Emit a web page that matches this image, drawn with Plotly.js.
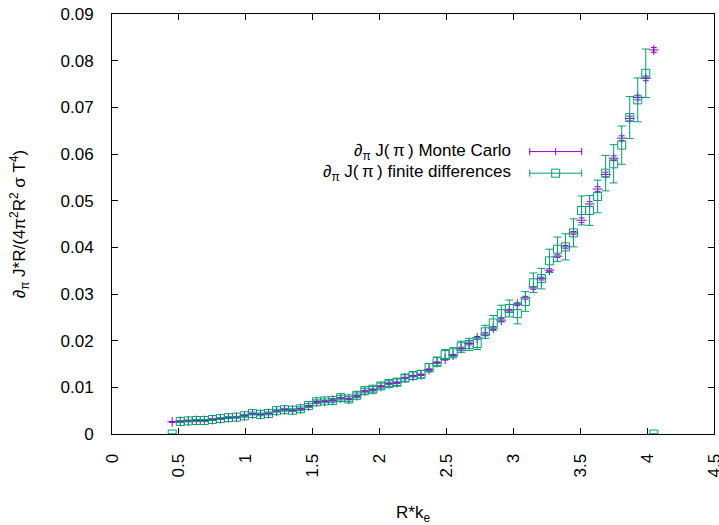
<!DOCTYPE html>
<html>
<head>
<meta charset="utf-8">
<script src="https://cdn.plot.ly/plotly-3.0.1.min.js"></script>
<style>html,body{margin:0;padding:0;background:#fff;}#chart{width:719px;height:525px;}</style>
</head>
<body>
<div id="chart"></div>
<script>
// R*k_e positions
const xVals = [0.45,0.51,0.57,0.63,0.69,0.75,0.81,0.87,0.93,0.99,
  1.05,1.11,1.17,1.23,1.29,1.35,1.41,1.47,1.53,1.59,
  1.65,1.71,1.77,1.83,1.89,1.95,2.01,2.07,2.13,2.19,
  2.25,2.31,2.37,2.43,2.49,2.55,2.61,2.67,2.73,2.79,
  2.85,2.91,2.97,3.03,3.09,3.15,3.21,3.27,3.33,3.39,
  3.45,3.51,3.57,3.63,3.69,3.75,3.81,3.87,3.93,3.99,4.05];

// Monte Carlo values and errors
const mcVals = [0.0026,0.0027,0.0028,0.0029,0.0029,0.0031,0.0033,0.0035,0.0036,0.0039,
  0.0043,0.0042,0.0044,0.0049,0.0052,0.0051,0.0054,0.0060,0.0069,0.0070,
  0.0072,0.0077,0.0075,0.0082,0.0092,0.0095,0.0102,0.0108,0.0110,0.0120,
  0.0124,0.0127,0.0138,0.0153,0.0160,0.0169,0.0183,0.0194,0.0206,0.0214,
  0.0227,0.0244,0.0264,0.0278,0.0292,0.0313,0.0333,0.0351,0.0381,0.0401,
  0.0431,0.0458,0.0493,0.0525,0.0556,0.0591,0.0634,0.0676,0.0721,0.0762,0.0823];
const mcErr = [0.0001,0.0001,0.0001,0.0001,0.0001,0.0001,0.0001,0.0001,0.0001,0.0001,
  0.0001,0.0001,0.0001,0.0001,0.0001,0.0001,0.0001,0.0001,0.00015,0.00015,
  0.00015,0.00015,0.00015,0.00015,0.00015,0.00015,0.00015,0.00015,0.00015,0.00015,
  0.00015,0.00015,0.00015,0.00015,0.00015,0.00015,0.0003,0.0003,0.0003,0.0003,
  0.0003,0.0003,0.0003,0.0003,0.0003,0.0003,0.0003,0.0003,0.0003,0.0003,
  0.0003,0.0005,0.0005,0.0005,0.0005,0.0005,0.0005,0.0005,0.0005,0.0005,0.0005];

// Finite differences values and errors
const fdVals = [0,0.0027,0.0028,0.0029,0.0029,0.0031,0.0033,0.0035,0.0036,0.0039,
  0.0044,0.0042,0.0044,0.0050,0.0052,0.0051,0.0054,0.0061,0.0069,0.0071,
  0.0072,0.0078,0.0075,0.0083,0.0093,0.0096,0.0103,0.0108,0.0111,0.0120,
  0.0125,0.0128,0.0142,0.0155,0.0170,0.0174,0.0187,0.0192,0.0194,0.0219,
  0.0238,0.0258,0.0269,0.0258,0.0284,0.0324,0.0333,0.0371,0.0396,0.0401,
  0.0431,0.0479,0.0479,0.0509,0.0559,0.0579,0.0619,0.0678,0.0716,0.0773,0];
const fdErr = [0,0.0002,0.0002,0.0002,0.0002,0.0002,0.0002,0.0002,0.0002,0.0003,
  0.0003,0.0003,0.0003,0.0003,0.0003,0.0003,0.0004,0.0004,0.0004,0.0004,
  0.0004,0.0005,0.0005,0.0005,0.0005,0.0006,0.0006,0.0006,0.0007,0.0007,
  0.0008,0.0008,0.0009,0.0010,0.0011,0.0011,0.0012,0.0013,0.0013,0.0014,
  0.0016,0.0018,0.0018,0.0022,0.0021,0.0021,0.0022,0.0025,0.0026,0.0028,
  0.0030,0.0031,0.0032,0.0035,0.0038,0.0041,0.0041,0.0045,0.0047,0.0052,0];

const seriesNames = ['∂<sub>π</sub> J(\u2009π\u2009) Monte Carlo', '∂<sub>π</sub> J(\u2009π\u2009) finite differences'];
const purple = '#9400d3';
const green = '#009e73';
const FONT = 'Liberation Sans, Arial, sans-serif';
const FS = 17;

const traces = [
  {
    x: xVals, y: mcVals, type: 'scatter', mode: 'markers', name: seriesNames[0],
    marker: {symbol: 'cross-thin-open', size: 7, color: purple, line: {color: purple, width: 1}},
    error_y: {type: 'data', array: mcErr, visible: true, color: purple, thickness: 1, width: 3},
    showlegend: false
  },
  {
    x: xVals, y: fdVals, type: 'scatter', mode: 'markers', name: seriesNames[1],
    marker: {symbol: 'square-open', size: 8, color: green, line: {color: green, width: 1}},
    error_y: {type: 'data', array: fdErr, visible: true, color: green, thickness: 1, width: 4},
    showlegend: false
  }
];

// legend rows (paper coords)
const legX = 0.6656, sx0 = 0.6939, sx1 = 0.7802, sxc = 0.737;
const legY = [0.6724, 0.621];
const cols = [purple, green];
const shapes = [];
const annotations = [];
for (let k = 0; k < 2; k++) {
  annotations.push({xref: 'paper', yref: 'paper', x: legX, y: legY[k], xanchor: 'right', yanchor: 'middle',
    text: seriesNames[k], showarrow: false, font: {family: FONT, size: FS, color: '#000'}});
  shapes.push({type: 'line', xref: 'paper', yref: 'paper', x0: sx0, x1: sx1, y0: legY[k], y1: legY[k], line: {color: cols[k], width: 1}});
  [sx0, sx1].forEach(function (xx) {
    shapes.push({type: 'line', xref: 'paper', yref: 'paper', ysizemode: 'pixel', yanchor: legY[k],
      x0: xx, x1: xx, y0: -3.5, y1: 3.5, line: {color: cols[k], width: 1}});
  });
  if (k === 0) {
    shapes.push({type: 'line', xref: 'paper', yref: 'paper', ysizemode: 'pixel', yanchor: legY[k],
      x0: sxc, x1: sxc, y0: -3.5, y1: 3.5, line: {color: purple, width: 1}});
  } else {
    shapes.push({type: 'rect', xref: 'paper', yref: 'paper', xsizemode: 'pixel', ysizemode: 'pixel', xanchor: sxc, yanchor: legY[k],
      x0: -4, x1: 4, y0: -4, y1: 4, line: {color: green, width: 1}, fillcolor: 'rgba(0,0,0,0)'});
  }
}

const layout = {
  width: 719, height: 525,
  margin: {l: 112, r: 5, t: 14, b: 91},
  paper_bgcolor: '#fff', plot_bgcolor: '#fff',
  font: {family: FONT, size: FS, color: '#000'},
  showlegend: false,
  xaxis: {
    range: [0, 4.5], dtick: 0.5, tick0: 0, tickangle: -90,
    ticks: 'inside', ticklen: 6, tickcolor: '#000', tickwidth: 1,
    showline: true, linecolor: '#000', linewidth: 1, mirror: 'ticks',
    showgrid: false, zeroline: false, ticklabelstandoff: 12, ticklabeloverflow: 'allow',
    tickfont: {family: FONT, size: FS, color: '#000'},
    title: {text: 'R*k<sub>e</sub>', font: {family: FONT, size: FS, color: '#000'}, standoff: 32}
  },
  yaxis: {
    range: [0, 0.09], dtick: 0.01, tick0: 0,
    ticks: 'inside', ticklen: 6, tickcolor: '#000', tickwidth: 1,
    showline: true, linecolor: '#000', linewidth: 1, mirror: 'ticks',
    showgrid: false, zeroline: false, ticklabelstandoff: 14, ticklabeloverflow: 'allow',
    tickfont: {family: FONT, size: FS, color: '#000'},
    title: {text: '∂<sub>π</sub> J*R/(4π<sup>2</sup>R<sup>2</sup> σ T<sup>4</sup>)', font: {family: FONT, size: FS, color: '#000'}, standoff: 30}
  },
  shapes: shapes,
  annotations: annotations
};

Plotly.newPlot('chart', traces, layout, {displayModeBar: false, staticPlot: true});
</script>
</body>
</html>
